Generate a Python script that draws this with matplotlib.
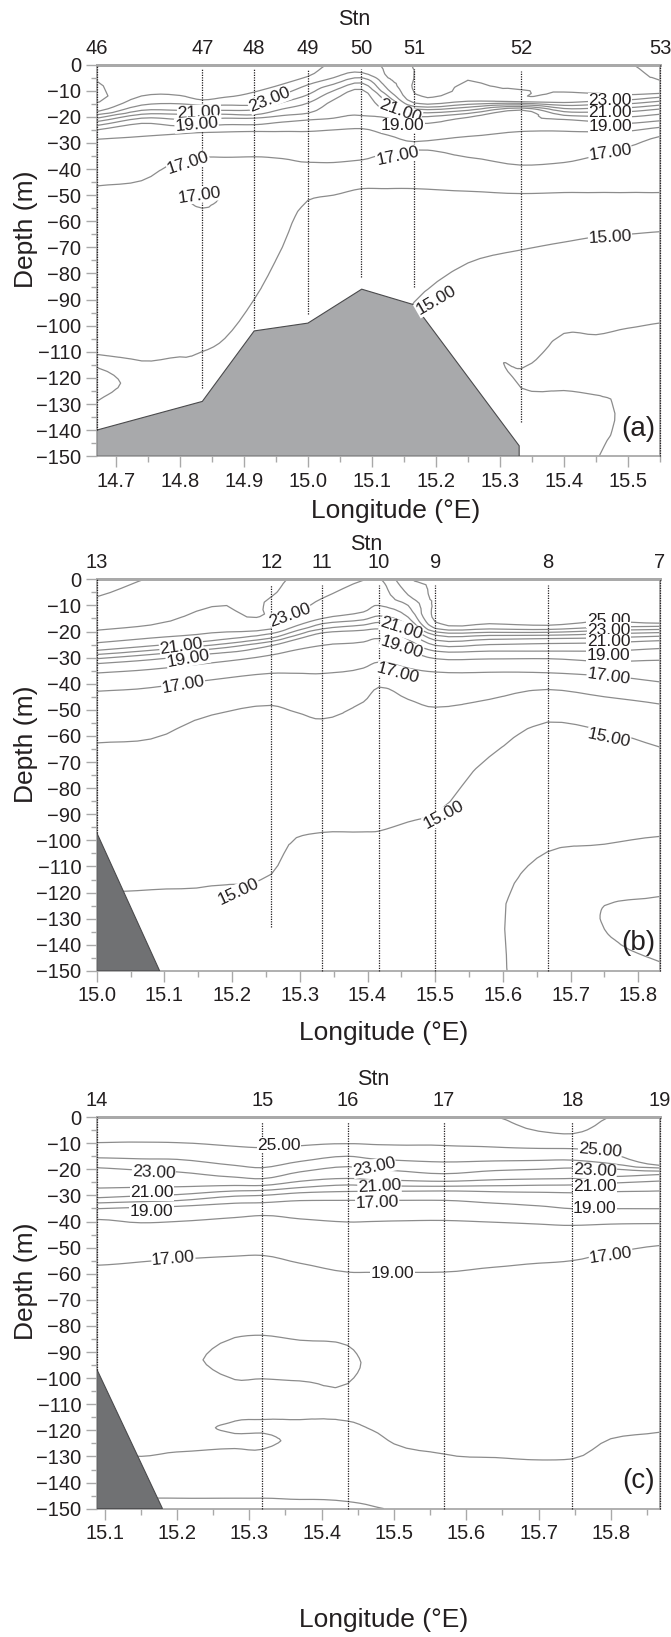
import numpy as np
import matplotlib.pyplot as plt
import matplotlib.tri as mtri
from matplotlib.ticker import MultipleLocator, FormatStrFormatter

plt.rcParams['font.family'] = ['Liberation Sans', 'DejaVu Sans']

INK = '#231f20'
ISO = '#8c8c8c'
FRAME = '#a9a9a9'
LEVELS = np.arange(12, 27) + 0.001   # isotherms every 1 degree

# ---------------- (a) stations 46-53 ----------------
stn_a = ['46', '47', '48', '49', '50', '51', '52', '53']
stn_lon_a = [14.670, 14.835, 14.916, 15.0, 15.083, 15.166, 15.333, 15.55]
stn_top_a = [0, -1.5, -1.5, -1.5, -1.5, -1.5, -2.5, 0]
stn_bot_a = [-140, -124, -101, -95.5, -81.5, -85, -137, -150]
bed_lon_a = [14.67, 14.835, 14.916, 15.0, 15.084, 15.166, 15.33, 15.33, 14.67]
bed_dep_a = [-140, -129, -102, -99, -86, -92, -146, -150, -150]
# casts: (depth m, temperature degC)
cast_lon_a = [14.670, 14.74, 14.80, 14.835, 14.87, 14.916, 14.96, 15.0, 15.04,
              15.084, 15.125, 15.166, 15.25, 15.333, 15.40, 15.45, 15.50, 15.55]
cast_a = [
    [(0, 24.6), (18, 24), (19.2, 23), (20.5, 22), (21.8, 21), (23.3, 20), (25, 19), (28.6, 18), (46.5, 17), (80, 16.5), (111, 16), (116, 15), (122, 14.6), (129, 15), (150, 15.4)],
    [(0, 24.6), (12, 24), (15.5, 23), (17.5, 22), (19, 21), (20.5, 20), (22.5, 19), (27.5, 18), (44.5, 17), (80, 16.4), (113.5, 16), (122, 15.3), (150, 15.5)],
    [(0, 24.6), (11.8, 24), (15, 23), (17.5, 22), (19, 21), (21, 20), (23.5, 19), (26.5, 18), (37, 17), (45, 16.8), (51, 16.95), (58, 16.8), (80, 16.4), (112, 16), (150, 15.6)],
    [(0, 24.6), (13.5, 24), (15.5, 23), (17.5, 22), (19, 21), (21, 20), (23.5, 19), (26, 18), (35.5, 17), (42, 16.8), (48, 17), (51.5, 17.2), (55, 17), (62, 16.8), (80, 16.4), (110, 16), (150, 15.6)],
    [(0, 24.6), (12.5, 24), (15.5, 23), (17.5, 22), (19, 21), (20.5, 20), (23, 19), (25.8, 18), (35.5, 17), (45, 16.8), (52, 16.9), (62, 16.8), (80, 16.4), (105, 16), (150, 15.6)],
    [(0, 24.6), (10.5, 24), (15.4, 23), (17.3, 22), (19.2, 21), (20.5, 20), (23, 19), (25.6, 18), (35.3, 17), (60, 16.5), (90, 16), (110, 15.8), (150, 15.6)],
    [(0, 24.6), (7.5, 24), (11.5, 23), (14.5, 22), (17, 21), (19.5, 20), (22, 19), (25.6, 18), (36, 17), (50, 16.5), (70, 16), (100, 15.7), (150, 15.6)],
    [(0, 24.5), (4.5, 24), (7.7, 23), (11.5, 22), (14.7, 21), (18.6, 20), (21.2, 19), (25.6, 18), (37.4, 17), (52, 16), (75, 15.5), (100, 15.3), (150, 15.3)],
    [(0, 23.8), (5, 23), (7.5, 22), (10, 21), (13.5, 20), (20.5, 19), (25, 18), (37.5, 17), (50, 16), (70, 15.6), (95, 15.3), (150, 15.3)],
    [(0, 23.5), (3, 23), (5, 22), (7, 21), (9.5, 20), (19.5, 19), (24.5, 18), (36.5, 17), (47.5, 16), (70, 15.6), (86, 15.4), (150, 15.4)],
    [(0, 24.3), (5, 24), (9.5, 23), (12, 22), (14.5, 21), (17, 20), (20.5, 19), (27, 18), (34, 17), (47.5, 16), (70, 15.5), (95, 15.2), (150, 15.2)],
    [(0, 25.05), (2, 25), (14.7, 24), (16, 23), (17, 22), (18.3, 21), (20, 20), (22.5, 19), (29.5, 18), (32.7, 17), (47.5, 16), (70, 15.5), (91, 15), (110, 14.8), (150, 14.8)],
    [(0, 25.3), (6, 25), (14, 24), (15.2, 23), (16.3, 22), (17.5, 21), (18.7, 20), (20.2, 19), (24, 18.5), (27.5, 18), (35.5, 17), (48.5, 16), (76, 15), (100, 14.7), (150, 14.6)],
    [(0, 25.6), (9.6, 25), (14.2, 24), (14.8, 23), (15.4, 22), (16, 21), (16.6, 20), (17.4, 19), (21.5, 18.5), (25.6, 18), (38.5, 17), (49.4, 16), (71, 15), (100, 14.3), (116.5, 14), (120, 13.8), (123.8, 14), (135, 14.3), (150, 14.3)],
    [(0, 25.8), (10.5, 25), (14.5, 24), (15.6, 23), (16.8, 22), (18, 21), (19.4, 20), (21, 19), (25.5, 18), (37.5, 17), (49, 16), (68, 15), (90, 14.4), (103, 14), (115, 13.8), (124.8, 14), (135, 14.2), (150, 14.2)],
    [(0, 25.85), (11, 25), (14, 24), (15.3, 23), (16.7, 22), (18.2, 21), (19.8, 20), (21.8, 19), (25.7, 18), (35, 17), (49, 16), (66, 15), (90, 14.3), (103.5, 14), (115, 13.8), (126.5, 14), (135, 14.2), (150, 14.03)],
    [(0, 25.95), (11.5, 25), (13.5, 24), (15, 23), (16.5, 22), (18, 21), (20, 20), (22.5, 19), (25.5, 18), (31.5, 17), (49, 16), (65, 15), (85, 14.4), (101, 14), (120, 13.8), (150, 13.7)],
    [(0, 26.4), (6, 26), (11, 25), (12.5, 24), (14, 23), (15.5, 22), (17, 21), (19, 20), (21.5, 19), (24, 18), (27.5, 17), (49, 16), (64, 15), (99, 14), (121, 13.8), (150, 13.7)],
]
lab_a = [('21.00', 14.83, -18.3, 2), ('19.00', 14.826, -22.8, 5), ('23.00', 14.94, -13.5, 22),
         ('17.00', 14.813, -37.8, 18), ('17.00', 14.83, -50, 8), ('21.00', 15.144, -18, -20),
         ('19.00', 15.148, -23.3, 0), ('17.00', 15.14, -35, 12), ('23.00', 15.472, -13.7, 0),
         ('21.00', 15.472, -18.3, 0), ('19.00', 15.472, -23.5, 0), ('17.00', 15.472, -33.7, 8),
         ('15.00', 15.472, -66.3, 3), ('15.00', 15.20, -90.4, 30)]

# ---------------- (b) stations 13-7 ----------------
stn_b = ['13', '12', '11', '10', '9', '8', '7']
stn_lon_b = [15.0, 15.258, 15.333, 15.417, 15.5, 15.666, 15.832]
stn_top_b = [0, -2, -2, -2, -2, -2, 0]
stn_bot_b = [-97, -133, -150, -150, -150, -150, -150]
bed_lon_b = [15.0, 15.093, 15.0]
bed_dep_b = [-97, -150, -150]
cast_lon_b = [15.0, 15.08, 15.17, 15.258, 15.295, 15.333, 15.394, 15.417, 15.46,
              15.5, 15.58, 15.666, 15.75, 15.832]
cast_b = [
    [(0, 25.4), (6.7, 25), (19.5, 24), (24.3, 23), (27.2, 22), (28.8, 21), (30.4, 20), (32.3, 19), (35.9, 18), (42.9, 17), (62.7, 16), (90, 15.5), (120, 15), (150, 14.8)],
    [(0, 24.95), (17.5, 24), (22.5, 23), (25.5, 22), (27.2, 21), (28.8, 20), (30.8, 19), (34.5, 18), (41.5, 17), (61.2, 16), (90, 15.4), (119, 15), (150, 14.8)],
    [(0, 24.6), (10.5, 24), (20.5, 23), (23.5, 22), (25.2, 21), (26.7, 20), (28.5, 19), (32, 18), (38.5, 17), (52, 16), (80, 15.5), (117.5, 15), (150, 14.8)],
    [(0, 24.2), (6.7, 24), (19, 23), (20.8, 22), (22.5, 21), (23.8, 20), (25.4, 19), (29, 18), (36, 17), (48.3, 16), (80, 15.5), (113, 15), (130, 14.8), (150, 14.7)],
    [(0, 23.85), (13.2, 23), (17.8, 22), (19.7, 21), (21.4, 20), (23, 19), (27, 18), (36, 17), (51, 16), (80, 15.45), (99, 15), (120, 14.7), (150, 14.6)],
    [(0, 23.5), (7.3, 23), (15, 22), (17, 21), (19, 20), (20.5, 19), (25.3, 18), (36.1, 17), (53.5, 16), (80, 15.4), (97, 15), (120, 14.7), (150, 14.6)],
    [(0, 23.02), (12.5, 22), (15.5, 21), (17.5, 20), (19.5, 19), (24, 18), (34, 17), (47, 16), (75, 15.4), (96.8, 15), (120, 14.6), (150, 14.5)],
    [(0, 22.9), (10, 22), (14, 21), (16.5, 20), (19, 19), (22.7, 18), (31.7, 17), (41.3, 16), (70, 15.4), (96.5, 15), (120, 14.6), (150, 14.4)],
    [(0, 24.9), (6, 24), (10, 23), (14.5, 22), (17.5, 21), (20, 20), (23, 19), (27, 18), (34, 17), (46, 16), (70, 15.4), (93, 15), (115, 14.5), (150, 14.3)],
    [(0, 25.3), (8, 25.2), (16.3, 25), (18.8, 24), (20.1, 23), (21.4, 22), (23.3, 21), (25.3, 20), (27.5, 19), (30.4, 18), (35.5, 17), (49, 16), (70, 15.4), (90, 15), (115, 14.3), (150, 14.2)],
    [(0, 25.5), (8, 25.3), (17, 25), (19, 24), (20.3, 23), (21.5, 22), (23, 21), (25, 20), (27.5, 19), (30.5, 18), (35.6, 17), (46, 16), (68, 15), (110, 14.2), (150, 14.1)],
    [(0, 25.5), (8, 25.3), (17.6, 25), (19.2, 24), (20.3, 23), (21.4, 22), (22.7, 21), (24.6, 20), (27.5, 19), (30.4, 18), (35.8, 17), (42.2, 16), (54.7, 15), (80, 14.5), (104.4, 14), (125, 13.7), (150, 13.7)],
    [(0, 25.5), (8, 25.3), (16, 25), (18.3, 24), (19.6, 23), (20.9, 22), (22.4, 21), (24.3, 20), (27.5, 19), (31.5, 18), (37, 17), (45, 16), (58, 15), (80, 14.5), (101.5, 14), (115, 13.5), (125, 13), (129, 12.95), (134, 13), (142, 13.2), (150, 13.3)],
    [(0, 25.5), (8, 25.3), (16.8, 25), (18, 24), (19.2, 23), (20.4, 22), (21.8, 21), (23.5, 20), (26.5, 19), (31, 18), (39.3, 17), (47.8, 16), (64.3, 15), (80, 14.6), (98.5, 14), (110, 13.5), (121.5, 13), (135, 12.5), (146.5, 13), (150, 13.1)],
]
lab_b = [('23.00', 15.286, -13.7, 20), ('21.00', 15.125, -25.9, 8), ('19.00', 15.135, -30.4, 10),
         ('17.00', 15.128, -40.4, 10), ('21.00', 15.45, -19, -18), ('19.00', 15.45, -26, -18),
         ('17.00', 15.445, -36, -15), ('25.00', 15.756, -15.6, 0), ('23.00', 15.756, -19.5, 0),
         ('21.00', 15.756, -24, 0), ('19.00', 15.756, -29, 0), ('17.00', 15.756, -37.4, -8),
         ('15.00', 15.756, -61, -12), ('15.00', 15.513, -90.3, 28), ('15.00', 15.21, -119.5, 25)]

# ---------------- (c) stations 14-19 ----------------
stn_c = ['14', '15', '16', '17', '18', '19']
stn_lon_c = [15.089, 15.318, 15.436, 15.569, 15.747, 15.868]
stn_top_c = [0, -2, -2, -2, -2, 0]
stn_bot_c = [-97, -150, -150, -150, -150, -150]
bed_lon_c = [15.089, 15.18, 15.089]
bed_dep_c = [-96.5, -150, -150]
cast_lon_c = [15.089, 15.15, 15.20, 15.28, 15.318, 15.37, 15.436, 15.47, 15.5,
              15.569, 15.64, 15.70, 15.747, 15.80, 15.868]
cast_c = [
    [(0, 25.5), (9.8, 25), (15.6, 24), (19.4, 23), (27.2, 22), (30.9, 21), (32.9, 20), (35.1, 19), (39.2, 18), (56.8, 17), (93, 16.3), (129, 16), (145, 15), (150, 14.9)],
    [(0, 25.5), (9.6, 25), (16, 24), (20.3, 23), (26.9, 22), (30.2, 21), (32.4, 20), (34.6, 19), (40.5, 18), (55.5, 17), (93, 16.2), (130, 16), (146, 15), (150, 14.9)],
    [(0, 25.5), (9.8, 25), (16.2, 24), (21, 23), (26.7, 22), (29.7, 21), (32, 20), (34.2, 19), (40, 18), (54.5, 17), (75, 16.4), (93, 16.12), (119, 16.2), (128.3, 16), (146, 15), (150, 14.8)],
    [(0, 25.5), (11.2, 25), (18.5, 24), (23, 23), (26.2, 22), (28.3, 21), (30.3, 20), (33, 19), (38.5, 18), (53.3, 17), (70, 16.5), (84.5, 16), (93, 15.85), (100.5, 16), (108, 16.1), (116.5, 16), (119, 15.9), (121.2, 16), (124, 16.1), (127, 16), (140, 15.5), (146, 15), (150, 14.8)],
    [(0, 25.5), (11.7, 25), (19.4, 24), (23.6, 23), (26.2, 22), (28.1, 21), (30, 20), (32.8, 19), (37.7, 18), (53, 17), (70, 16.5), (83.6, 16), (93, 15.8), (100.2, 16), (108, 16.1), (115.9, 16), (118.5, 15.9), (121, 16), (124, 16.15), (127.3, 16), (140, 15.4), (146, 15), (150, 14.9)],
    [(0, 25.5), (11, 25), (17, 24), (21, 23), (24.6, 22), (27, 21), (29, 20), (32, 19), (39, 18), (56, 17), (72, 16.5), (85.5, 16), (93, 15.8), (101, 16), (108, 16.05), (116, 16), (124, 15.85), (140, 15.3), (146.5, 15), (150, 14.9)],
    [(0, 25.5), (10.2, 25), (15, 24), (19, 23), (23.5, 22), (26, 21), (28.5, 20), (31.9, 19), (40.2, 18), (59.4, 17), (75, 16.5), (87.5, 16), (94, 15.9), (102, 16), (109, 16.05), (116.5, 16), (125, 15.7), (140, 15.2), (147.3, 15), (150, 14.9)],
    [(0, 25.5), (10.5, 25), (16, 24), (20, 23), (24, 22), (26.3, 21), (28.4, 20), (31.9, 19), (40, 18), (59.5, 17), (80, 16.5), (94, 16.1), (110, 16.1), (120, 16), (130, 15.6), (140, 15.3), (149, 15), (150, 14.97)],
    [(0, 25.5), (10.7, 25), (16.5, 24), (20.5, 23), (24.2, 22), (26.4, 21), (28.4, 20), (31.9, 19), (39.8, 18), (59.5, 17), (80, 16.5), (105, 16.2), (125.2, 16), (140, 15.5), (150, 15.05)],
    [(0, 25.6), (10.9, 25), (17.2, 24), (21.7, 23), (24.6, 22), (26.5, 21), (28.3, 20), (31.9, 19), (39.6, 18), (59.4, 17), (85, 16.5), (110, 16.2), (129.1, 16), (150, 15.6)],
    [(0, 25.98), (11.5, 25), (16.8, 24), (20.5, 23), (24, 22), (26.3, 21), (28.6, 20), (33, 19), (40.3, 18), (57.5, 17), (85, 16.5), (110, 16.2), (130.5, 16), (150, 15.6)],
    [(0, 26.3), (5.4, 26), (12, 25), (16.6, 24), (20, 23), (23.7, 22), (26.1, 21), (28.8, 20), (34, 19), (41, 18), (56, 17), (85, 16.5), (110, 16.2), (131.4, 16), (150, 15.6)],
    [(0, 26.4), (6.4, 26), (12.1, 25), (16.5, 24), (19.5, 23), (23.5, 22), (26, 21), (29, 20), (35.1, 19), (41.5, 18), (55, 17), (85, 16.5), (110, 16.2), (131, 16), (150, 15.6)],
    [(0, 25.98), (7, 25.6), (14, 25), (17.8, 24), (19.8, 23), (22.8, 22), (25.3, 21), (28.6, 20), (35.1, 19), (41, 18), (52, 17), (85, 16.4), (110, 16.15), (123.3, 16), (150, 15.7)],
    [(0, 25.8), (9, 25.5), (18.5, 25), (19.5, 24), (20.7, 23), (22, 22), (24.5, 21), (28.3, 20), (35.1, 19), (40.8, 18), (49.2, 17), (85, 16.3), (110, 16.1), (120.8, 16), (150, 15.7)],
]
lab_c = [('25.00', 15.341, -10.9, 0), ('23.00', 15.168, -21.1, -3), ('21.00', 15.165, -29, 0),
         ('19.00', 15.165, -36, 0), ('17.00', 15.195, -54.3, 5), ('23.00', 15.473, -19.1, 12),
         ('21.00', 15.48, -26.6, 3), ('17.00', 15.477, -33, 2), ('19.00', 15.498, -60, 0),
         ('25.00', 15.785, -12.8, -5), ('23.00', 15.778, -20.7, -3), ('21.00', 15.778, -26.6, 0),
         ('19.00', 15.778, -35.1, 0), ('17.00', 15.80, -53, 8)]


def draw_panel(ax, cast_lon, casts, stn, stn_lon, stn_top, stn_bot, bed_lon, bed_dep,
               bed_color, labels, xlim, xticks, tag, stn_xy, xlab, ylab_y):
    x = np.array([lon for lon, c in zip(cast_lon, casts) for _ in c])
    d = np.array([p[0] for c in casts for p in c])
    t = np.array([p[1] for c in casts for p in c])
    # triangulate (and smooth) in a stretched frame so triangles join neighbouring casts
    k = 1500.0
    tri = mtri.Triangulation(x * k, -d)
    fine, t_fine = mtri.UniformTriRefiner(tri).refine_field(
        t, triinterpolator=mtri.CubicTriInterpolator(tri, t, kind='geom'), subdiv=2)
    fine = mtri.Triangulation(fine.x / k, fine.y, fine.triangles)
    ax.tricontour(fine, t_fine, levels=LEVELS, colors=ISO, linewidths=0.9, zorder=2)

    ax.fill(bed_lon, bed_dep, facecolor=bed_color, edgecolor='#4a4a4c', linewidth=0.8, zorder=3)
    ax.vlines(stn_lon, stn_bot, stn_top, colors=INK, linestyles=(0, (1, 1)),
              linewidth=0.9, zorder=4, clip_on=False)

    for txt, lon, dep, rot in labels:
        ax.text(lon, dep, txt, rotation=rot, ha='center', va='center', fontsize=12.5,
                color=INK, zorder=5, rotation_mode='anchor',
                bbox=dict(facecolor='white', edgecolor='none', pad=0.3))

    ax.set_xlim(*xlim)
    ax.set_ylim(-150, 0)
    ax.set_xticks(xticks)
    ax.xaxis.set_major_formatter(FormatStrFormatter('%.1f'))
    ax.xaxis.set_minor_locator(MultipleLocator(0.05))
    ax.set_yticks(np.arange(-150, 1, 10))
    ax.yaxis.set_minor_locator(MultipleLocator(5))
    ax.tick_params(which='major', length=8, width=1, color=FRAME, labelcolor=INK,
                   labelsize=14.5, pad=3)
    ax.tick_params(which='minor', length=4.5, width=1, color=FRAME)
    for s in ax.spines.values():
        s.set_color(FRAME)
        s.set_linewidth(1.3)
    ax.spines['top'].set_linewidth(2)

    sec = ax.secondary_xaxis('top')
    sec.set_xticks(stn_lon)
    sec.set_xticklabels(stn)
    sec.tick_params(length=0, pad=5, labelsize=14.5, labelcolor=INK)
    sec.spines['top'].set_color(FRAME)
    sec.spines['top'].set_linewidth(2)
    ax.text(*stn_xy, 'Stn', transform=ax.transAxes, ha='center', va='center',
            fontsize=15.5, color=INK)

    ax.set_ylabel('Depth (m)', fontsize=19, color=INK)
    ax.yaxis.set_label_coords(-0.105, ylab_y)
    ax.set_xlabel('Longitude (\u00b0E)', fontsize=19, color=INK)
    ax.xaxis.set_label_coords(*xlab)
    ax.text(0.962, 0.07, tag, transform=ax.transAxes, ha='center', va='center',
            fontsize=20, color=INK, zorder=6)


fig = plt.figure(figsize=(6.71, 16.37), dpi=100)
ax_a = fig.add_axes([0.1441, 0.7213, 0.8395, 0.2392])
ax_b = fig.add_axes([0.1441, 0.4069, 0.8395, 0.2392])
ax_c = fig.add_axes([0.1441, 0.0784, 0.8395, 0.2392])

draw_panel(ax_a, cast_lon_a, cast_a, stn_a, stn_lon_a, stn_top_a, stn_bot_a,
           bed_lon_a, bed_dep_a, '#a8a9ab', lab_a, (14.67, 15.55),
           np.round(np.arange(14.7, 15.51, 0.1), 1), '(a)', (0.457, 1.115), (0.53, -0.11), 0.58)
draw_panel(ax_b, cast_lon_b, cast_b, stn_b, stn_lon_b, stn_top_b, stn_bot_b,
           bed_lon_b, bed_dep_b, '#707173', lab_b, (15.0, 15.832),
           np.round(np.arange(15.0, 15.81, 0.1), 1), '(b)', (0.479, 1.09), (0.51, -0.128), 0.58)
draw_panel(ax_c, cast_lon_c, cast_c, stn_c, stn_lon_c, stn_top_c, stn_bot_c,
           bed_lon_c, bed_dep_c, '#707173', lab_c, (15.089, 15.868),
           np.round(np.arange(15.1, 15.81, 0.1), 1), '(c)', (0.49, 1.095), (0.51, -0.253), 0.58)

fig.savefig('out.png', dpi=100)
